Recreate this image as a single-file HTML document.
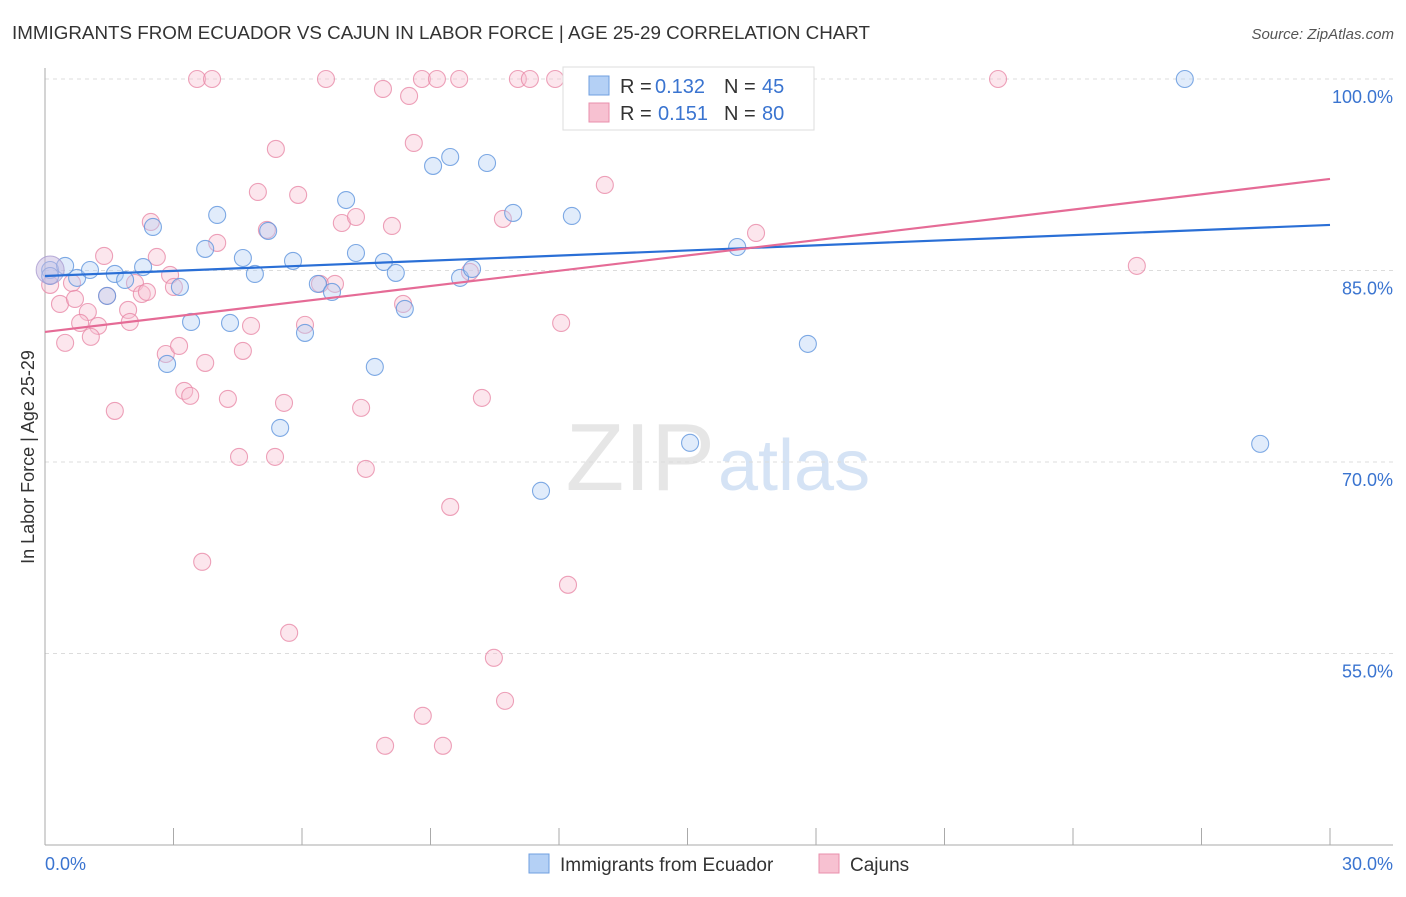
<!DOCTYPE html>
<html><head><meta charset="utf-8"><style>
body{margin:0;background:#fff;font-family:"Liberation Sans",sans-serif}
svg text{font-family:"Liberation Sans",sans-serif}
</style></head><body>
<svg id="chart" width="1406" height="892" viewBox="0 0 1406 892" xmlns="http://www.w3.org/2000/svg">
<text x="12" y="39" font-size="18" fill="#333" textLength="858" lengthAdjust="spacingAndGlyphs">IMMIGRANTS FROM ECUADOR VS CAJUN IN LABOR FORCE | AGE 25-29 CORRELATION CHART</text>
<text x="1394" y="39" font-size="15" fill="#555" text-anchor="end" font-style="italic">Source: ZipAtlas.com</text>
<text x="715" y="490" font-size="96" fill="#e6e6e6" text-anchor="end" font-family="Liberation Serif">ZIP</text>
<text x="718" y="490" font-size="72" fill="#d5e3f5">atlas</text>
<g id="grid"></g><g id="axes"></g><g id="pts"></g><g id="lines"></g>
<text transform="translate(34,457) rotate(-90)" font-size="18" fill="#333" text-anchor="middle">In Labor Force | Age 25-29</text>
<g>
<rect x="563" y="67" width="251" height="63" fill="#fff" stroke="#ddd"/>
<rect x="589" y="76" width="20" height="19" fill="#b4d0f5" stroke="#6f9fe0"/>
<rect x="589" y="103" width="20" height="19" fill="#f7c1d1" stroke="#ea8fac"/>
<text x="620" y="93" font-size="20" fill="#333">R =</text>
<text x="655" y="93" font-size="20" fill="#3a74d0">0.132</text>
<text x="724" y="93" font-size="20" fill="#333">N =</text>
<text x="762" y="93" font-size="20" fill="#3a74d0">45</text>
<text x="620" y="120" font-size="20" fill="#333">R =</text>
<text x="658" y="120" font-size="20" fill="#3a74d0">0.151</text>
<text x="724" y="120" font-size="20" fill="#333">N =</text>
<text x="762" y="120" font-size="20" fill="#3a74d0">80</text>
</g>
<g>
<rect x="529" y="854" width="20" height="19" fill="#b4d0f5" stroke="#6f9fe0"/>
<text x="560" y="871" font-size="19" fill="#333">Immigrants from Ecuador</text>
<rect x="819" y="854" width="20" height="19" fill="#f7c1d1" stroke="#ea8fac"/>
<text x="850" y="871" font-size="19" fill="#333">Cajuns</text>
</g>
</svg>
<script>
const yTicks=[100,85,70,55];
const yTickLabels=["100.0%","85.0%","70.0%","55.0%"];
const xTickLabels=["0.0%","30.0%"];
const blueX=[0.12,0.12,0.47,0.75,1.05,1.45,1.63,1.87,2.29,2.52,3.15,3.41,2.85,4.02,3.74,4.32,4.62,4.90,5.21,5.49,5.79,6.07,6.37,6.70,7.03,7.26,7.70,7.91,8.19,8.40,9.06,9.46,9.69,9.97,10.32,10.93,11.58,12.30,12.91,15.06,16.16,17.81,26.61,28.37,15.29];
const blueY=[85.04,84.57,85.36,84.42,85.04,83.01,84.73,84.26,85.27,88.41,83.71,80.97,77.68,89.35,86.69,80.89,85.98,84.73,88.10,72.67,85.75,80.11,83.95,83.32,90.52,86.37,77.45,85.67,84.81,81.99,93.19,93.89,84.42,85.12,93.42,89.51,67.74,89.27,100,71.50,86.84,79.25,100,71.42,100];
const pinkX=[3.55,3.90,6.56,7.89,8.50,8.80,9.15,9.67,11.04,11.32,11.91,12.56,22.25,5.39,8.61,4.97,5.91,13.07,2.47,5.18,6.93,7.26,8.10,10.69,1.38,2.61,4.02,16.60,25.49,0.12,0.63,0.35,0.70,1.00,0.82,1.24,0.47,1.07,1.45,1.94,1.98,2.10,2.26,2.38,2.92,3.01,2.82,3.13,3.74,3.25,3.39,1.63,4.27,4.62,4.81,6.07,6.42,6.77,8.36,12.05,5.58,7.38,10.20,4.53,5.37,7.49,9.46,3.67,12.21,5.70,10.48,10.74,8.82,7.94,9.29,9.92,13.03];
const pinkY=[100,100,100,99.22,98.67,100,100,100,100,100,100,100,100,94.52,94.99,91.15,90.92,91.70,88.80,88.18,88.72,89.19,88.49,89.04,86.14,86.06,87.16,87.94,85.36,83.87,84.02,82.38,82.77,81.75,80.89,80.66,79.33,79.80,83.01,81.91,80.97,84.02,83.16,83.32,84.65,83.71,78.46,79.09,77.76,75.57,75.18,74.00,74.94,78.70,80.66,80.74,83.95,83.95,82.38,80.89,74.63,74.24,75.02,70.40,70.40,69.46,66.48,62.18,60.38,56.62,54.66,51.29,50.12,47.77,47.77,84.89,100];
const blueTrend=[84.57,88.57];
const pinkTrend=[80.19,92.17];
const NS="http://www.w3.org/2000/svg";
const X=v=>45+v/30*1285;
const Y=v=>79+(100-v)/15*191.5;
function mk(tag,attrs,parent){const e=document.createElementNS(NS,tag);for(const k in attrs)e.setAttribute(k,attrs[k]);document.getElementById(parent).appendChild(e);return e;}
yTicks.forEach((t,i)=>{
 const g=mk('line',{x1:45,x2:1393,y1:Y(t),y2:Y(t),stroke:'#dcdcdc','stroke-dasharray':'4,4'},'grid');
 
 
 const tx=mk('text',{x:1393,y:Y(t)+24,'font-size':18,fill:'#3a74d0','text-anchor':'end'},'grid');
 tx.textContent=yTickLabels[i];
 
 
});
const ya=mk('line',{x1:45,x2:45,y1:68,y2:845,stroke:'#aaa'},'axes');


const xa=mk('line',{x1:45,x2:1393,y1:845,y2:845,stroke:'#aaa'},'axes');


for(let i=1;i<=10;i++){const t=mk('line',{x1:X(i*3),x2:X(i*3),y1:828,y2:845,stroke:'#aaa'},'axes');
 
 }
[[0,'start'],[30,'end']].forEach((p,i)=>{const t=mk('text',{x:i?1393:45,y:870,'font-size':18,fill:'#3a74d0','text-anchor':p[1]},'axes');t.textContent=xTickLabels[i];
 
 });
function pts(xs,ys,fill,stroke,name){xs.forEach((x,i)=>{const c=mk('circle',{cx:X(x),cy:Y(ys[i]),r:8.5,fill:fill,'fill-opacity':0.4,stroke:stroke,'stroke-opacity':0.8,'stroke-width':1.1},'pts');
 
 });}
pts(pinkX,pinkY,'#f7c1d1','#e88aa8','cajun-point');
pts(blueX,blueY,'#b4d0f5','#5f95dd','ecuador-point');
const big=mk('circle',{cx:X(0.12),cy:Y(85.04),r:14,fill:'#c6b8e0','fill-opacity':0.5,stroke:'#a99bd0','stroke-opacity':0.8},'pts');


const bl=mk('line',{x1:X(0),y1:Y(blueTrend[0]),x2:X(30),y2:Y(blueTrend[1]),stroke:'#2a6fd6','stroke-width':2.2},'lines');


const pl=mk('line',{x1:X(0),y1:Y(pinkTrend[0]),x2:X(30),y2:Y(pinkTrend[1]),stroke:'#e56b96','stroke-width':2.2},'lines');


</script>
</body></html>
